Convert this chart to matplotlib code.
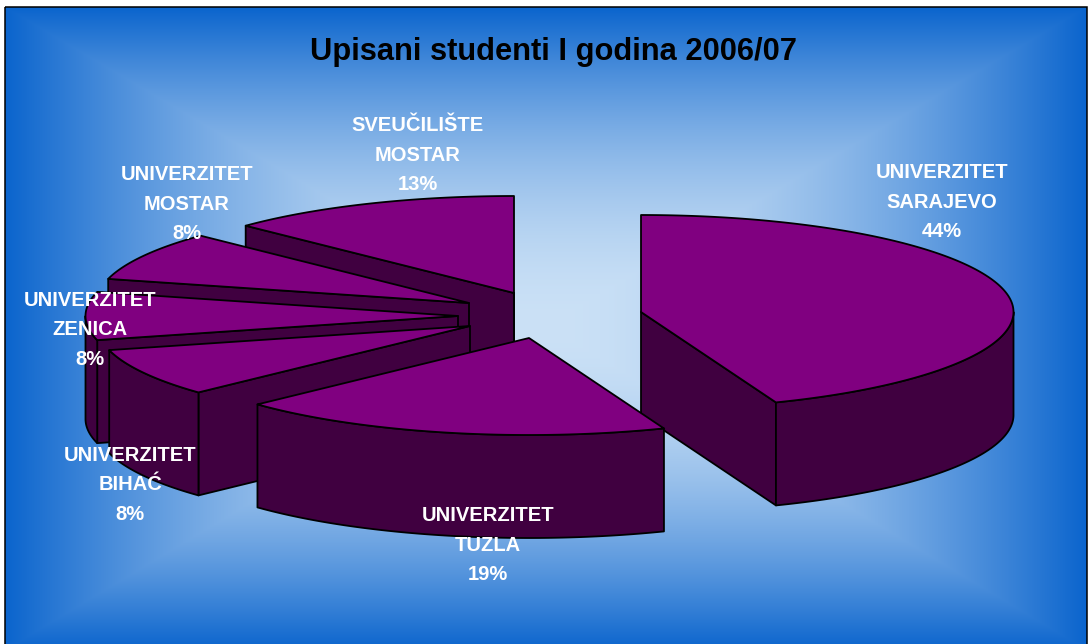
import numpy as np
import matplotlib
matplotlib.use("Agg")
import matplotlib.pyplot as plt
from matplotlib.patches import Polygon, Rectangle

plt.rcParams['font.family'] = ['Liberation Sans', 'DejaVu Sans']

title = "Upisani studenti I godina 2006/07"
categories = ["UNIVERZITET\nSARAJEVO", "UNIVERZITET\nTUZLA", "UNIVERZITET\nBIHAĆ",
              "UNIVERZITET\nZENICA", "UNIVERZITET\nMOSTAR", "SVEUČILIŠTE\nMOSTAR"]
shares = [44.1, 18.9, 8, 8, 8.2, 12.8]

W, H = 1090, 644
apex_x = [641, 529, 470, 458, 469, 514]
apex_y = [312, 338, 326, 316, 303, 293]
label_x = [942, 488, 130, 90, 187, 418]
label_y = [172.5, 515.5, 455, 300, 174.5, 125.5]
A, B, DEPTH = 372.5, 97, 103
TOP = '#800080'
SIDE = '#400040'
LW = 1.3
LINE_GAP = 29.7

fig = plt.figure(figsize=(W / 100, H / 100), dpi=100, facecolor='white')
ax = fig.add_axes([0, 0, 1, 1])
ax.set_xlim(0, W)
ax.set_ylim(H, 0)
ax.axis('off')

# background: rectangular path gradient
left, top, right, bottom = 5, 7, 1087, 650
cx, cy = 546, 326
yy, xx = np.mgrid[0:H, 0:W] + 0.5
tx = np.where(xx < cx, (cx - xx) / (cx - left), (xx - cx) / (right - cx))
ty = np.where(yy < cy, (cy - yy) / (cy - top), (yy - cy) / (bottom - cy))
t = (np.clip(np.maximum(tx, ty), 0, 1) ** 1.8)[..., None]
inner = np.array([203, 225, 246]) / 255
outer = np.array([10, 100, 205]) / 255
ax.imshow(inner * (1 - t) + outer * t, extent=(0, W, H, 0), zorder=0,
          interpolation='bilinear', aspect='auto')
ax.set_xlim(0, W)
ax.set_ylim(H, 0)
ax.add_patch(Rectangle((0, 0), W, top, color='white', zorder=1, lw=0))
ax.add_patch(Rectangle((0, 0), left, H, color='white', zorder=1, lw=0))
ax.add_patch(Rectangle((right, 0), W - right, H, color='white', zorder=1, lw=0))
ax.add_patch(Rectangle((left, top), right - left, bottom - top, fill=False,
                       ec='black', lw=1.1, zorder=2))

# slices: angles clockwise from 12 o'clock, from the values
edges = np.cumsum([0] + shares) / sum(shares) * 2 * np.pi


def pts(a, x0, y0):
    return x0 + A * np.sin(a), y0 - B * np.cos(a)


def face(xs, ys, color, z):
    ax.add_patch(Polygon(np.column_stack([xs, ys]), closed=True, fc=color, ec='black',
                         lw=LW, joinstyle='round', zorder=z))


# draw far slices first; only faces turned to the viewer
order = np.argsort(apex_y)
for rank, i in enumerate(order):
    z = 10 + rank
    a0, a1 = edges[i], edges[i + 1]
    x0, y0 = apex_x[i], apex_y[i]
    for a, visible in ((a0, a0 > np.pi), (a1, a1 < np.pi)):
        if visible:
            x1, y1 = pts(a, x0, y0)
            face([x0, x1, x1, x0], [y0, y1, y1 + DEPTH, y0 + DEPTH], SIDE, z)
    r0, r1 = max(a0, np.pi / 2), min(a1, 3 * np.pi / 2)
    if r1 > r0:
        rim = np.linspace(r0, r1, 120)
        xr, yr = pts(rim, x0, y0)
        face(np.r_[xr, xr[::-1]], np.r_[yr, yr[::-1] + DEPTH], SIDE, z)
    if np.isclose(a1, 2 * np.pi):
        # the vertical back edge of the last slice
        ax.plot([x0, x0], [y0, y0 + DEPTH], color='black', lw=LW, zorder=z)
    arc = np.linspace(a0, a1, 200)
    xa, ya = pts(arc, x0, y0)
    face(np.r_[x0, xa], np.r_[y0, ya], TOP, z)

ax.text(553, 51.5, title, ha='center', va='center', fontsize=22.2, fontweight='bold',
        color='black', zorder=30)
for name, share, lx, ly in zip(categories, shares, label_x, label_y):
    for k, line in enumerate(name.split("\n") + [f"{share:.0f}%"]):
        ax.text(lx, ly + k * LINE_GAP, line, ha='center', va='center', fontsize=14.5,
                fontweight='bold', color='white', zorder=30)

fig.savefig('out.png', dpi=100, facecolor='white')
